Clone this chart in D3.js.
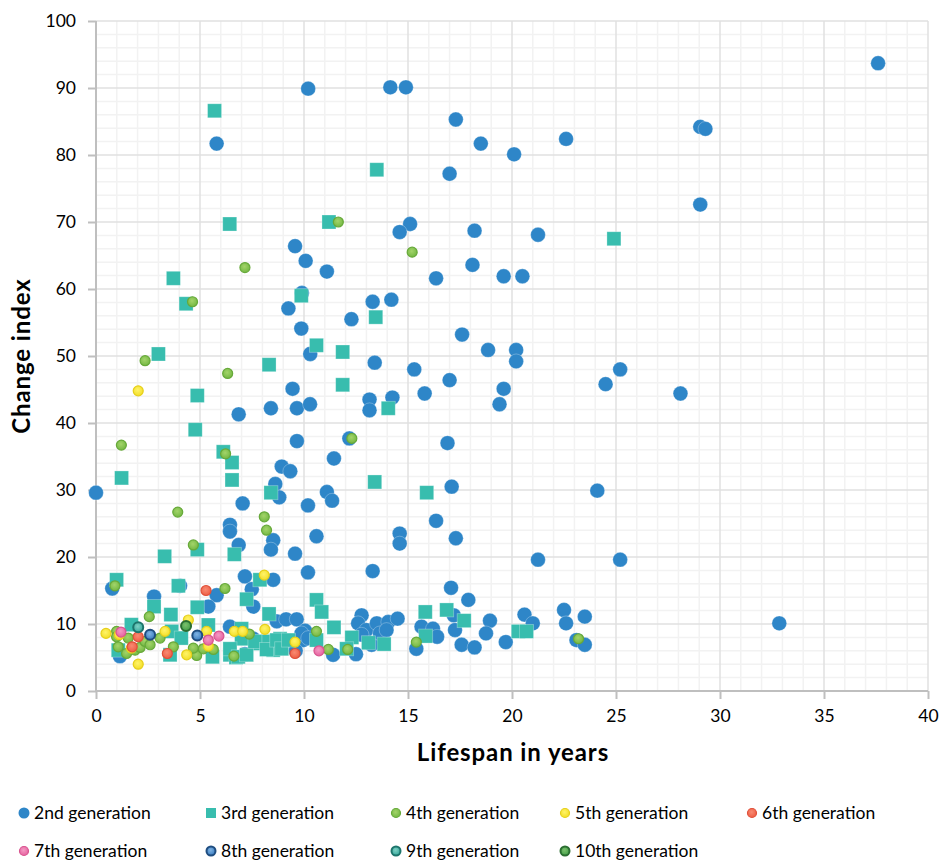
<!DOCTYPE html>
<html>
<head>
<meta charset="utf-8">
<script src="https://cdn.jsdelivr.net/npm/d3@7/dist/d3.min.js"></script>
<style>
  body { margin: 0; background: #fff; }
  text { font-family: "Lato", "Open Sans", sans-serif; fill: #000; }
</style>
</head>
<body>
<svg id="chart" width="942" height="864"></svg>
<script>
// Axis ticks
const xTicks = [0, 5, 10, 15, 20, 25, 30, 35, 40];
const yTicks = [0, 10, 20, 30, 40, 50, 60, 70, 80, 90, 100];
const xTitle = "Lifespan in years";
const yTitle = "Change index";

// Series: [lifespan in years, change index]
const gen2 = [
  [37.6,93.7],[10.2,89.9],[14.15,90.1],[14.9,90.1],[17.3,85.3],[18.5,81.7],[20.1,80.1],[22.6,82.4],
  [29.05,84.2],[29.3,83.9],[29.05,72.6],[5.8,81.7],[17.0,77.2],[15.1,69.7],[14.6,68.5],[18.2,68.7],
  [21.25,68.1],[18.1,63.6],[16.35,61.6],[19.6,61.9],[20.5,61.9],[13.3,58.1],[14.2,58.4],[17.6,53.2],
  [18.85,50.9],[20.2,50.9],[20.2,49.2],[13.4,49.0],[15.3,48.0],[17.0,46.4],[25.2,48.0],[24.5,45.8],
  [19.6,45.1],[15.8,44.4],[19.4,42.8],[13.15,43.5],[14.25,43.8],[13.15,41.9],[16.9,37.0],[17.1,30.5],
  [24.1,29.9],[16.35,25.4],[14.6,23.5],[14.6,22.0],[17.3,22.8],[21.25,19.6],[25.2,19.6],[13.3,17.9],
  [28.1,44.4],[32.85,10.1],[9.57,66.4],[10.08,64.2],[11.1,62.6],[9.9,59.4],[9.25,57.1],[12.28,55.5],
  [9.87,54.1],[10.3,50.3],[9.45,45.1],[8.41,42.2],[9.66,42.2],[10.29,42.8],[6.86,41.3],[9.66,37.3],
  [12.18,37.7],[11.44,34.7],[8.93,33.5],[9.34,32.8],[8.62,30.9],[8.81,28.9],[0.0,29.6],[11.1,29.7],
  [11.35,28.4],[7.05,28.0],[10.19,27.7],[6.44,24.8],[6.44,23.8],[10.6,23.1],[8.52,22.5],[8.41,21.1],
  [6.86,21.8],[9.57,20.5],[10.19,17.7],[17.07,15.4],[17.9,13.6],
  [0.78,15.3],[2.79,14.1],[4.04,15.7],[5.8,14.3],[5.4,12.6],[7.16,17.1],[7.49,15.2],[8.52,16.6],
  [7.56,12.6],[8.69,10.4],[9.14,10.7],[9.65,10.7],[10.05,9.0],[6.44,9.6],[7.08,8.4],[7.56,7.8],
  [7.16,5.5],[9.6,7.4],[9.97,7.6],[9.88,8.6],[10.2,7.9],[9.6,6.0],[1.15,5.2],[11.4,5.4],[12.5,5.5],
  [12.77,11.3],[12.6,10.1],[13.0,9.1],[13.5,10.1],[14.05,10.3],[14.5,10.8],[12.77,8.4],[13.25,6.9],
  [13.65,8.6],[13.97,9.1],[15.4,6.3],[15.65,9.6],[16.2,9.3],[16.4,8.1],[17.2,11.3],[17.26,9.1],
  [18.94,10.5],[18.75,8.6],[17.58,6.9],[18.2,6.5],[19.7,7.3],[20.6,11.4],[21.0,10.1],[22.5,12.1],
  [22.6,10.1],[23.5,11.1],[23.1,7.6],[23.5,6.9]
];
const gen3 = [
  [5.7,86.6],[13.5,77.8],[6.43,69.7],[11.2,70.0],[3.72,61.6],[24.9,67.5],[9.87,59.0],[4.33,57.8],
  [13.45,55.8],[10.6,51.6],[11.86,50.6],[3.0,50.3],[8.32,48.7],[4.87,44.1],[11.86,45.7],[14.05,42.2],
  [4.77,39.0],[6.12,35.7],[6.54,34.1],[1.23,31.8],[6.54,31.5],[13.4,31.2],[8.41,29.6],[15.9,29.6],
  [3.3,20.1],[4.87,21.1],[6.65,20.4],[0.99,16.6],[3.96,15.7],[7.88,16.6],[2.79,12.6],[3.6,11.4],
  [4.87,12.5],[7.24,13.7],[8.32,11.5],[10.6,13.6],[10.85,11.8],[15.83,11.8],[16.86,12.1],[17.7,10.5],
  [20.3,8.9],[20.7,8.9],[10.6,7.6],[11.44,9.5],[12.3,8.0],[12.05,6.3],[13.1,7.2],[13.85,7.0],
  [15.85,8.2],[7.0,7.8],[7.72,7.1],[8.28,7.4],[8.85,7.8],[8.52,6.1],[6.44,5.4],[6.73,5.0],
  [5.4,9.85],[7.0,9.3],[6.44,6.3],[6.84,5.1],[7.24,5.4],[7.64,7.4],[8.2,6.2],[8.69,7.6],
  [8.93,6.3],[9.25,7.6],[5.6,5.1],[1.7,9.9],[1.07,6.1],[3.56,5.4],[3.64,8.9],[4.1,7.9]
];
const gen4 = [
  [11.65,70.0],[7.16,63.2],[15.2,65.5],[4.64,58.1],[2.36,49.3],[6.33,47.4],[12.3,37.7],[1.22,36.7],
  [6.23,35.4],[3.93,26.7],[8.09,26.0],[8.2,24.0],[4.68,21.8],[0.91,15.7],[6.2,15.3],[2.56,11.1],
  [10.6,8.9],[11.17,6.2],[12.1,6.2],[15.4,7.3],[23.2,7.8],[7.37,8.5],[6.63,5.2],[5.64,6.2],
  [3.08,7.9],[3.72,6.6],[4.84,5.3],[5.16,6.3],[4.68,6.4],[0.99,8.9],[1.07,6.6],[1.47,5.6],
  [1.88,6.1],[2.12,6.5],[2.36,7.4],[2.6,6.9],[1.55,7.9],[0.99,8.1]
];
const gen5 = [
  [2.03,44.8],[8.09,17.3],[4.44,10.6],[0.48,8.6],[3.32,8.9],[6.65,8.9],[7.05,8.9],[8.12,9.2],
  [5.32,8.9],[9.57,7.3],[5.4,6.7],[4.36,5.4],[2.03,4.0],[1.12,8.4],[1.7,6.4]
];
const gen6 = [[5.29,15.0],[9.57,5.6],[2.03,8.1],[1.74,6.6],[3.43,5.6]];
const gen7 = [[10.72,6.0],[1.2,8.8],[5.4,7.6],[5.91,8.2]];
const gen8 = [[2.6,8.4],[4.87,8.3]];
const gen9 = [[2.03,9.5]];
const gen10 = [[4.33,9.7]];

const series = [
  { name: "2nd generation",  data: gen2,  shape: "dot",    fill: "#2E86C8" },
  { name: "3rd generation",  data: gen3,  shape: "square", fill: "#38BDAE" },
  { name: "4th generation",  data: gen4,  shape: "ball", inner: "#A3D46A", outer: "#74B843", edge: "#67A93A", sw: 1.2 },
  { name: "5th generation",  data: gen5,  shape: "ball", inner: "#FFF36A", outer: "#F3DF26", edge: "#E6CF1C", sw: 1.2 },
  { name: "6th generation",  data: gen6,  shape: "ball", inner: "#F88A72", outer: "#EE5E45", edge: "#E0503A", sw: 1.2 },
  { name: "7th generation",  data: gen7,  shape: "ball", inner: "#F49AC4", outer: "#E6629F", edge: "#D8548F", sw: 1.2 },
  { name: "8th generation",  data: gen8,  shape: "ball", inner: "#7FB3E3", outer: "#3A7CC0", edge: "#1F4D80", sw: 2 },
  { name: "9th generation",  data: gen9,  shape: "ball", inner: "#7FD1C4", outer: "#35A89C", edge: "#1D756C", sw: 2 },
  { name: "10th generation", data: gen10, shape: "ball", inner: "#7CC06E", outer: "#43A047", edge: "#2B6E31", sw: 2 }
];

const svg = d3.select("#chart");
const plot = { left: 96, right: 928, top: 21, bottom: 691 };

const x = d3.scaleLinear().domain([0, 40]).range([plot.left, plot.right]);
const y = d3.scaleLinear().domain([0, 100]).range([plot.bottom, plot.top]);

// Gradients for the small glossy markers
const defs = svg.append("defs");
series.forEach((s, i) => {
  if (s.shape !== "ball") return;
  const g = defs.append("radialGradient").attr("id", "grad" + i)
    .attr("cx", "45%").attr("cy", "40%").attr("r", "60%");
  g.append("stop").attr("offset", "0%").attr("stop-color", s.inner);
  g.append("stop").attr("offset", "100%").attr("stop-color", s.outer);
});

// Minor gridlines
const grid = svg.append("g");
grid.selectAll("line.mx").data(d3.range(1, 40).filter(v => v % 5 !== 0)).join("line")
  .attr("x1", d => x(d)).attr("x2", d => x(d)).attr("y1", plot.top).attr("y2", plot.bottom)
  .attr("stroke", "#F2F2F2").attr("stroke-width", 1.5);
grid.selectAll("line.my").data(d3.range(2, 100, 2).filter(v => v % 10 !== 0)).join("line")
  .attr("y1", d => y(d)).attr("y2", d => y(d)).attr("x1", plot.left).attr("x2", plot.right)
  .attr("stroke", "#F2F2F2").attr("stroke-width", 1.5);
// Major gridlines
grid.selectAll("line.Mx").data(xTicks.slice(1)).join("line")
  .attr("x1", d => x(d)).attr("x2", d => x(d)).attr("y1", plot.top).attr("y2", plot.bottom)
  .attr("stroke", "#E0E0E0").attr("stroke-width", 1.5);
grid.selectAll("line.My").data(yTicks.slice(1)).join("line")
  .attr("y1", d => y(d)).attr("y2", d => y(d)).attr("x1", plot.left).attr("x2", plot.right)
  .attr("stroke", "#E0E0E0").attr("stroke-width", 1.5);

// Axes
const xAxis = svg.append("g").attr("transform", `translate(0,${plot.bottom})`)
  .call(d3.axisBottom(x).tickValues(xTicks).tickSize(8).tickPadding(11).tickFormat(d3.format("d")));
const yAxis = svg.append("g").attr("transform", `translate(${plot.left},0)`)
  .call(d3.axisLeft(y).tickValues(yTicks).tickSize(8).tickPadding(12).tickFormat(d3.format("d")));
[xAxis, yAxis].forEach(a => {
  a.select(".domain").attr("stroke", "#BFBFBF").attr("stroke-width", 2);
  a.selectAll(".tick line").attr("stroke", "#BFBFBF").attr("stroke-width", 2);
  a.selectAll(".tick text").attr("font-size", 17.5).attr("font-family", "Lato, sans-serif").attr("fill", "#000");
});
yAxis.select(".domain").attr("d", `M0,${plot.bottom}V${plot.top}`);
xAxis.select(".domain").attr("d", `M${plot.left},0H${plot.right}`);

// Axis titles
svg.append("text").attr("x", (plot.left + plot.right) / 2 + 1).attr("y", 761)
  .attr("text-anchor", "middle").attr("font-size", 24).attr("font-weight", "bold")
  .attr("letter-spacing", 0.9).text(xTitle);
svg.append("text").attr("transform", `translate(30,${(plot.top + plot.bottom) / 2}) rotate(-90)`)
  .attr("text-anchor", "middle").attr("font-size", 24).attr("font-weight", "bold")
  .attr("letter-spacing", 0.9).text(yTitle);

// Markers, drawn series by series so later generations sit on top
const marks = svg.append("g");
series.forEach((s, i) => {
  const g = marks.append("g");
  if (s.shape === "dot") {
    g.selectAll("circle").data(s.data).join("circle")
      .attr("cx", d => x(d[0])).attr("cy", d => y(d[1])).attr("r", 7.4)
      .attr("fill", s.fill).attr("stroke", "#ffffff").attr("stroke-opacity", 0.35).attr("stroke-width", 0.8);
  } else if (s.shape === "square") {
    g.selectAll("rect").data(s.data).join("rect")
      .attr("x", d => x(d[0]) - 7).attr("y", d => y(d[1]) - 7).attr("width", 14).attr("height", 14)
      .attr("fill", s.fill).attr("stroke", "#ffffff").attr("stroke-opacity", 0.35).attr("stroke-width", 0.8);
  } else {
    g.selectAll("circle").data(s.data).join("circle")
      .attr("cx", d => x(d[0])).attr("cy", d => y(d[1])).attr("r", 5)
      .attr("fill", `url(#grad${i})`).attr("stroke", s.edge).attr("stroke-width", s.sw);
  }
});

// Legend, two rows
const legendRows = [[0, 1, 2, 3, 4], [5, 6, 7, 8]];
const colX = [24, 211, 396, 565, 752];
const rowY = [813, 851];
const legend = svg.append("g");
legendRows.forEach((row, r) => {
  row.forEach((si, c) => {
    const s = series[si];
    const item = legend.append("g").attr("transform", `translate(${colX[c]},${rowY[r]})`);
    if (s.shape === "dot") {
      item.append("circle").attr("r", 5.5).attr("fill", s.fill);
    } else if (s.shape === "square") {
      item.append("rect").attr("x", -5).attr("y", -5).attr("width", 10).attr("height", 10).attr("fill", s.fill);
    } else {
      item.append("circle").attr("r", 4.5).attr("fill", `url(#grad${si})`).attr("stroke", s.edge).attr("stroke-width", s.sw);
    }
    item.append("text").attr("x", 10).attr("y", 6).attr("font-size", 17.5).text(s.name);
  });
});
</script>
</body>
</html>
